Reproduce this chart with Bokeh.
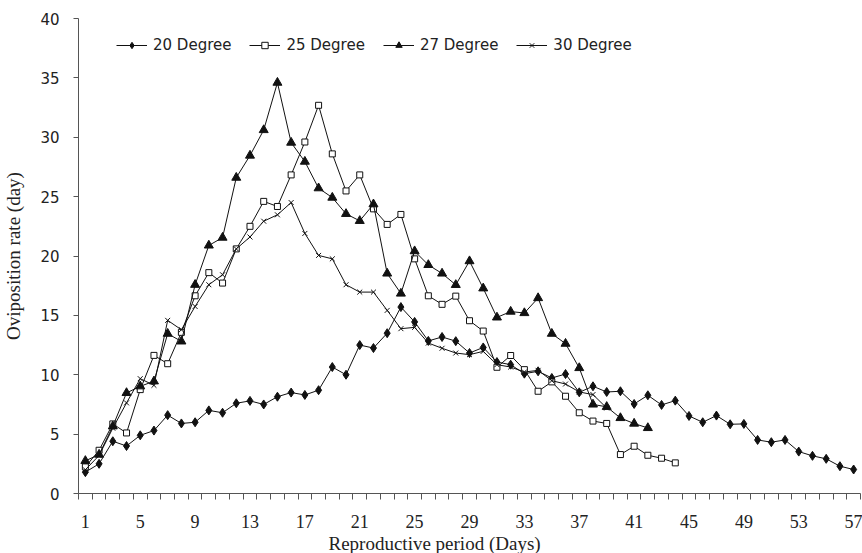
from bokeh.plotting import figure
from bokeh.models import FixedTicker, Legend, LegendItem, Title
from bokeh.embed import file_html
from bokeh.resources import INLINE

# ---- data -------------------------------------------------------------
rate_20 = [1.8, 2.5, 4.4, 4.0, 4.9, 5.3, 6.6, 5.9, 6.0, 7.0,
           6.8, 7.6, 7.8, 7.5, 8.15, 8.5, 8.3, 8.7, 10.65, 10.0,
           12.5, 12.25, 13.5, 15.7, 14.45, 12.85, 13.18, 12.83, 11.83, 12.3,
           11.07, 10.85, 10.09, 10.29, 9.73, 10.06, 8.52, 9.03, 8.55, 8.61,
           7.54, 8.27, 7.46, 7.82, 6.53, 6.0, 6.56, 5.83, 5.86, 4.51,
           4.32, 4.51, 3.53, 3.17, 2.92, 2.3, 2.02]
rate_25 = [2.24, 3.64, 5.86, 5.1, 8.75, 11.63, 10.93, 13.57, 16.65, 18.6,
           17.72, 20.6, 22.5, 24.6, 24.17, 26.83, 29.6, 32.69, 28.6, 25.48,
           26.83, 23.97, 22.66, 23.5, 19.76, 16.65, 15.93, 16.62, 14.55, 13.68,
           10.63, 11.62, 10.43, 8.61, 9.4, 8.19, 6.8, 6.1, 5.9, 3.28,
           3.98, 3.22, 2.97, 2.58]
rate_27 = [2.75, 3.28, 5.66, 8.47, 9.03, 9.45, 13.46, 12.81, 17.58, 20.89,
           21.55, 26.6, 28.46, 30.61, 34.6, 29.55, 27.95, 25.71, 24.92, 23.55,
           22.96, 24.36, 18.53, 16.84, 20.41, 19.25, 18.53, 17.57, 19.57, 17.28,
           14.83, 15.32, 15.2, 16.46, 13.46, 12.62, 10.57, 7.5, 7.3, 6.36,
           5.89, 5.52]
rate_30 = [2.0, 3.2, 5.5, 7.63, 9.67, 9.11, 14.58, 13.79, 15.75, 17.58,
           18.42, 20.6, 21.6, 22.93, 23.47, 24.5, 21.9, 20.05, 19.76, 17.58,
           16.96, 16.96, 15.42, 13.88, 13.99, 12.67, 12.23, 11.83, 11.69, 11.97,
           10.85, 10.65, 10.23, 10.37, 9.5, 9.22, 8.55, 8.33, 7.2]

days_20 = list(range(1, len(rate_20) + 1))
days_25 = list(range(1, len(rate_25) + 1))
days_27 = list(range(1, len(rate_27) + 1))
days_30 = list(range(1, len(rate_30) + 1))

series_labels = ["20 Degree", "25 Degree", "27 Degree", "30 Degree"]
x_tick_days = list(range(1, 58, 4))
y_ticks = list(range(0, 41, 5))
x_title = "Reproductive period (Days)"
y_title = "Oviposition rate (day)"

# ---- figure -----------------------------------------------------------
p = figure(width=862, height=553, x_range=(0.5, 57.5), y_range=(0, 40),
           output_backend="svg", toolbar_location=None,
           min_border_left=75, min_border_right=2,
           min_border_top=18, min_border_bottom=59)
p.outline_line_color = None
p.xgrid.visible = False
p.ygrid.visible = False
p.background_fill_color = "white"
p.border_fill_color = "white"

AX = "#555555"
TXT = "#222222"

# x axis: tick marks sit between the day categories
p.xaxis.ticker = FixedTicker(ticks=x_tick_days,
                             minor_ticks=[d - 0.5 for d in range(1, 59)])
p.xaxis.major_tick_out = 0
p.xaxis.major_tick_in = 0
p.xaxis.minor_tick_out = 6
p.xaxis.minor_tick_in = 0
p.xaxis.minor_tick_line_color = AX
p.xaxis.axis_line_color = AX
p.xaxis.major_label_standoff = 15
p.xaxis.major_label_text_font = "Liberation Serif"
p.xaxis.major_label_text_font_size = "18px"
p.xaxis.major_label_text_color = TXT

# x-axis title: sits a little left of the frame centre, as in the source
p.add_layout(Title(text=x_title, align="left", offset=250, standoff=0,
                   text_font="Liberation Serif", text_font_size="19px",
                   text_font_style="normal", text_color=TXT), "below")

# y axis
p.yaxis.ticker = FixedTicker(ticks=y_ticks, minor_ticks=[])
p.yaxis.major_tick_out = 5
p.yaxis.major_tick_in = 0
p.yaxis.major_tick_line_color = AX
p.yaxis.axis_line_color = AX
p.yaxis.major_label_standoff = 14
p.yaxis.major_label_text_font = "DejaVu Sans"
p.yaxis.major_label_text_font_size = "15px"
p.yaxis.major_label_text_color = TXT
p.yaxis.axis_label = y_title
p.yaxis.axis_label_text_font = "Liberation Serif"
p.yaxis.axis_label_text_font_size = "19px"
p.yaxis.axis_label_text_font_style = "normal"
p.yaxis.axis_label_text_color = TXT
p.yaxis.axis_label_standoff = 13

LC = "#111111"

l20 = p.line(days_20, rate_20, line_color=LC, line_width=1)
m20 = p.scatter(days_20, rate_20, marker="diamond", size=9,
                fill_color=LC, line_color=LC)
l25 = p.line(days_25, rate_25, line_color=LC, line_width=1)
m25 = p.scatter(days_25, rate_25, marker="square", size=6,
                fill_color="white", line_color=LC, line_width=1)
l27 = p.line(days_27, rate_27, line_color=LC, line_width=1)
m27 = p.scatter(days_27, rate_27, marker="triangle", size=9,
                fill_color=LC, line_color=LC)
l30 = p.line(days_30, rate_30, line_color=LC, line_width=1)
m30 = p.scatter(days_30, rate_30, marker="x", size=7,
                line_color=LC, line_width=1)

legend = Legend(items=[
    LegendItem(label=series_labels[0], renderers=[l20, m20]),
    LegendItem(label=series_labels[1], renderers=[l25, m25]),
    LegendItem(label=series_labels[2], renderers=[l27, m27]),
    LegendItem(label=series_labels[3], renderers=[l30, m30]),
], location=(38, 439), orientation="horizontal")
legend.glyph_width = 31
legend.glyph_height = 16
legend.label_height = 16
legend.label_standoff = 6
legend.spacing = 18
legend.padding = 0
legend.margin = 0
legend.border_line_alpha = 0
legend.background_fill_alpha = 0
legend.label_text_font = "DejaVu Sans"
legend.label_text_font_size = "15px"
legend.label_text_color = TXT
p.add_layout(legend)

open("out.html", "w").write(file_html(p, INLINE))
